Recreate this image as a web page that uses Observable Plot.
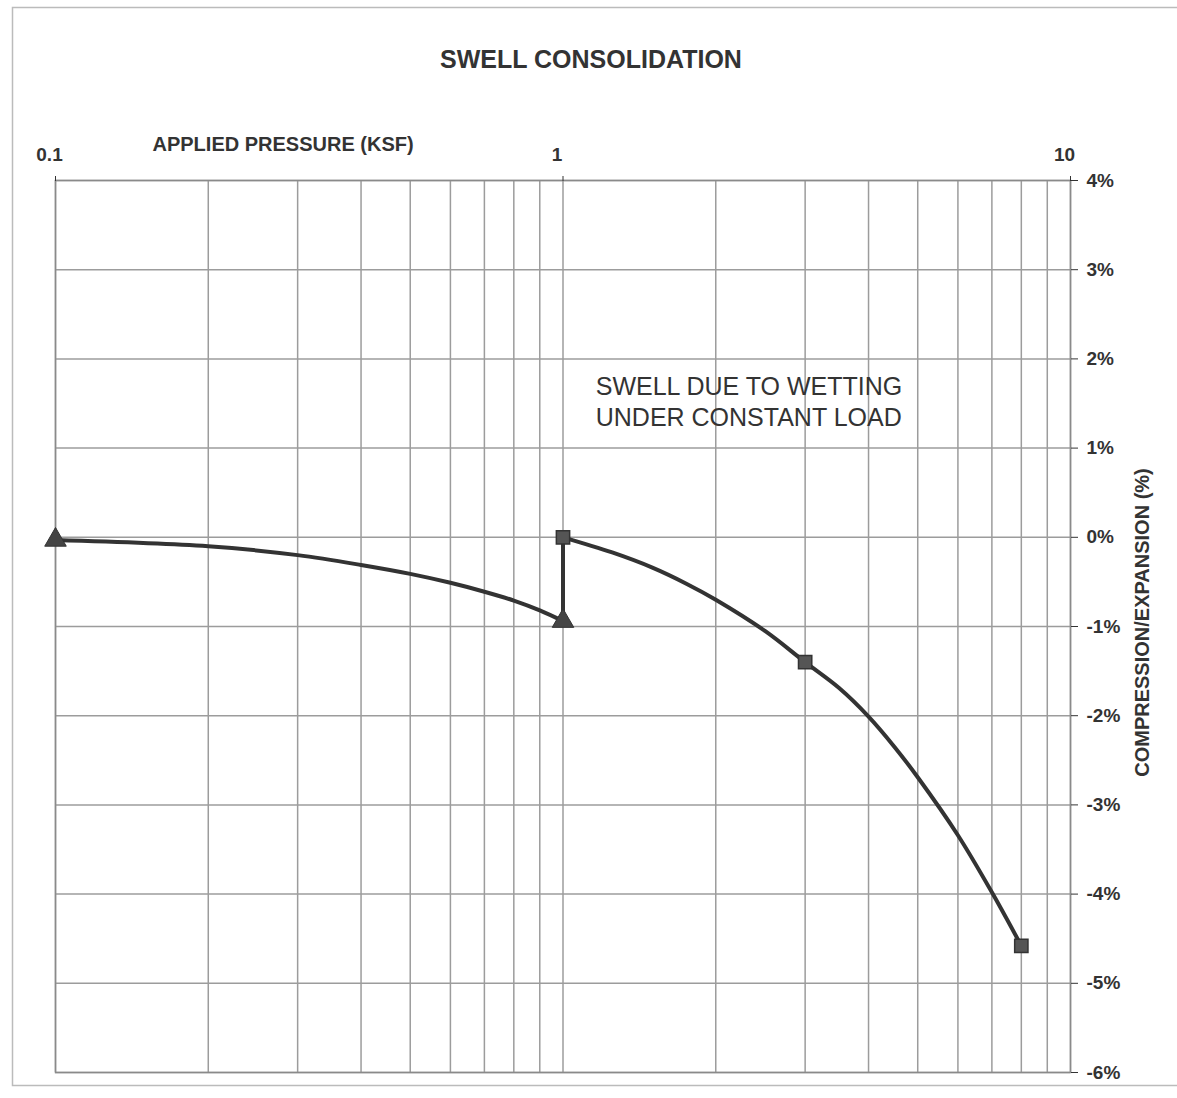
<!DOCTYPE html>
<html>
<head>
<meta charset="utf-8">
<script src="https://cdn.jsdelivr.net/npm/d3@7"></script>
<script src="https://cdn.jsdelivr.net/npm/@observablehq/plot@0.6"></script>
<style>
  html, body { margin: 0; padding: 0; background: #fff; }
  #chart { width: 1177px; height: 1098px; }
</style>
</head>
<body>
<div id="chart"></div>
<script>
// ---- data ----
const xTicks = [0.1, 1, 10];
const xTickLabels = ["0.1", "1", "10"];
const yTicks = [4, 3, 2, 1, 0, -1, -2, -3, -4, -5, -6];
const gridPressures = [0.1,0.2,0.3,0.4,0.5,0.6,0.7,0.8,0.9,1,2,3,4,5,6,7,8,9,10];

// measured points (markers)
const loadPressure = [0.1, 1];          // triangles: loading before wetting
const loadStrain   = [-0.03, -0.94];
const wetPressure  = [1, 3, 8];          // squares: after wetting
const wetStrain    = [0, -1.4, -4.58];

// curve
const loadCurvePressure = [0.1,0.2,0.3,0.4,0.5,0.6,0.7,0.8,0.9,1];
const loadCurveStrain   = [-0.03,-0.1,-0.2,-0.31,-0.41,-0.51,-0.61,-0.71,-0.82,-0.94];
const wetCurvePressure  = [1,1.25,1.5,1.75,2,2.5,3,3.5,4,4.5,5,6,7,8];
const wetCurveStrain    = [0,-0.17,-0.34,-0.52,-0.7,-1.05,-1.4,-1.69,-2.01,-2.35,-2.69,-3.34,-3.98,-4.58];

const title = "SWELL CONSOLIDATION";
const xTitle = "APPLIED PRESSURE (KSF)";
const yTitle = "COMPRESSION/EXPANSION (%)";
const note = ["SWELL DUE TO WETTING", "UNDER CONSTANT LOAD"];

// ---- build tables ----
const toRows = (ps, ss) => ps.map((p, i) => ({p, s: ss[i]}));
const loadPts = toRows(loadPressure, loadStrain);
const wetPts = toRows(wetPressure, wetStrain);
const loadCurve = toRows(loadCurvePressure, loadCurveStrain);
const wetCurve = toRows(wetCurvePressure, wetCurveStrain);
const jump = [{p: loadPressure[1], s: loadStrain[1]}, {p: wetPressure[0], s: wetStrain[0]}];
const xLabel = d => xTickLabels[xTicks.findIndex(t => Math.abs(t - d) < 1e-9)];

const ink = "#333";
const grid = "#9c9c9c";

const chart = Plot.plot({
  width: 1177,
  height: 1098,
  marginLeft: 55,
  marginRight: 107,
  marginTop: 180,
  marginBottom: 26,
  style: { fontFamily: "'Liberation Sans', Arial, sans-serif", fontSize: "19px", background: "#fff", color: ink },
  x: { type: "log", domain: [0.1, 10] },
  y: { domain: [-6, 4] },
  marks: [
    Plot.ruleX(gridPressures, { stroke: grid, strokeWidth: 1.5 }),
    Plot.ruleY(yTicks, { stroke: grid, strokeWidth: 1.5 }),
    Plot.frame({ stroke: "#8a8a8a", strokeWidth: 1.5 }),
    // top tick marks
    Plot.axisX({ ticks: xTicks, anchor: "top", label: null, tickSize: 5, tickFormat: () => "" }),
    // top tick labels
    Plot.axisX({
      ticks: xTicks, anchor: "top", label: null, tickSize: 0, tickPadding: 20,
      tickFormat: xLabel, fontSize: 19, fontWeight: "bold", dx: -6
    }),
    Plot.axisY({
      ticks: yTicks, anchor: "right", label: null, tickSize: 7, tickPadding: 9,
      tickFormat: d => d + "%",
      fontSize: 19, fontWeight: "bold"
    }),
    Plot.line(loadCurve, { x: "p", y: "s", curve: "catmull-rom", stroke: ink, strokeWidth: 4 }),
    Plot.line(jump, { x: "p", y: "s", stroke: ink, strokeWidth: 4 }),
    Plot.line(wetCurve, { x: "p", y: "s", curve: "catmull-rom", stroke: ink, strokeWidth: 4 }),
    Plot.dot(loadPts, { x: "p", y: "s", symbol: "triangle", r: 8, fill: "#444", stroke: "#333", strokeWidth: 1 }),
    Plot.dot(wetPts, { x: "p", y: "s", symbol: "square", r: 7.5, fill: "#555", stroke: "#333", strokeWidth: 1.5 }),
    Plot.text([note[0]], { x: 1.16, y: 1.68, text: d => d, textAnchor: "start", fontSize: 25, fontWeight: "normal", fill: ink }),
    Plot.text([note[1]], { x: 1.16, y: 1.34, text: d => d, textAnchor: "start", fontSize: 25, fontWeight: "normal", fill: ink }),
    Plot.text([title], { frameAnchor: "top", dx: 28, dy: -130, text: d => d, fontSize: 25, fontWeight: "bold", fill: ink }),
    Plot.text([xTitle], { frameAnchor: "top-left", dx: 97, dy: -44, text: d => d, textAnchor: "start", fontSize: 20, fontWeight: "bold", fill: ink }),
    Plot.text([yTitle], { frameAnchor: "right", dx: 72, dy: -4, rotate: -90, textAnchor: "middle", text: d => d, fontSize: 20, fontWeight: "bold", fill: ink })
  ]
});

d3.select(chart).insert("rect", ":first-child")
  .attr("x", 12.5).attr("y", 7.5).attr("width", 1180).attr("height", 1078)
  .attr("fill", "none").attr("stroke", "#bbb").attr("stroke-width", 1.5);

document.getElementById("chart").appendChild(chart);
</script>
</body>
</html>
